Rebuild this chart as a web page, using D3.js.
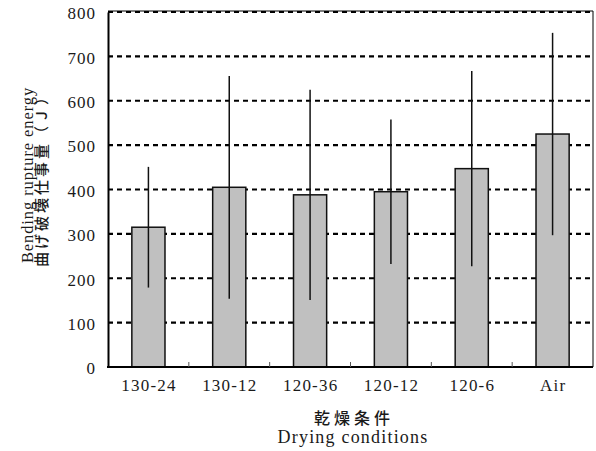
<!DOCTYPE html>
<html><head><meta charset="utf-8">
<script src="https://cdn.jsdelivr.net/npm/d3@7"></script>
<style>body{margin:0;background:#fff}</style>
</head><body>
<svg id="c" width="596" height="451"></svg>
<script>
const categories = ["130-24","130-12","120-36","120-12","120-6","Air"];
const means = [315, 405, 388, 395, 447, 525];
const sds = [136, 251, 237, 163, 220, 228];
const yTicks = [0,100,200,300,400,500,600,700,800];

const svg = d3.select("#c");
const L=108, R=593, T=12, B=367;
const x = d3.scaleBand().domain(categories).range([L,R]).paddingInner(0.59).paddingOuter(0.295);
const xb = d3.scaleBand().domain(categories).range([L,R]).padding(0);
const y = d3.scaleLinear().domain([0,800]).range([B,T]);
const serif = "'Liberation Serif','Times New Roman',serif";
const cjk = "'Noto Sans CJK JP',sans-serif";

// gridlines
svg.append("g").selectAll("line").data(yTicks.filter(d=>d>0)).join("line")
  .attr("x1",L).attr("x2",R).attr("y1",d=>y(d)).attr("y2",d=>y(d))
  .attr("stroke","#000").attr("stroke-width",2.2).attr("stroke-dasharray","5,4");
svg.append("line").attr("x1",L).attr("x2",R).attr("y1",T-1).attr("y2",T-1).attr("stroke","#000").attr("stroke-width",1);
svg.append("line").attr("x1",R).attr("x2",R).attr("y1",T-1).attr("y2",B).attr("stroke","#000").attr("stroke-width",1);

// bars
svg.append("g").selectAll("rect").data(categories).join("rect")
  .attr("x",d=>x(d)).attr("width",x.bandwidth())
  .attr("y",(d,i)=>y(means[i])).attr("height",(d,i)=>B-y(means[i]))
  .attr("fill","#c0c0c0").attr("stroke","#111").attr("stroke-width",1.5);
// error bars
svg.append("g").selectAll("line").data(categories).join("line")
  .attr("x1",d=>x(d)+x.bandwidth()/2).attr("x2",d=>x(d)+x.bandwidth()/2)
  .attr("y1",(d,i)=>y(means[i]+sds[i])).attr("y2",(d,i)=>y(means[i]-sds[i]))
  .attr("stroke","#111").attr("stroke-width",1.5);

// axes
const ya = svg.append("g").attr("transform",`translate(${L},0)`)
  .call(d3.axisLeft(y).tickValues(yTicks).tickSize(0).tickPadding(12));
ya.select(".domain").attr("stroke","#000").attr("stroke-width",2);
ya.selectAll("text").attr("font-family",serif).attr("font-size",17).attr("letter-spacing",1)
  .attr("fill","#1a1a1a").attr("dy","0.4em");

svg.append("line").attr("x1",L-1).attr("x2",R).attr("y1",B).attr("y2",B).attr("stroke","#000").attr("stroke-width",2);
svg.append("g").selectAll("line").data(categories.slice(1)).join("line")
  .attr("x1",d=>xb(d)).attr("x2",d=>xb(d)).attr("y1",B).attr("y2",B-5)
  .attr("stroke","#555").attr("stroke-width",1);
svg.append("g").selectAll("text").data(categories).join("text")
  .attr("x",d=>x(d)+x.bandwidth()/2+0.6).attr("y",B+24).attr("text-anchor","middle")
  .attr("font-family",serif).attr("font-size",17).attr("letter-spacing",1.2).attr("fill","#1a1a1a").text(d=>d);

// x title
svg.append("text").attr("x",354).attr("y",424).attr("text-anchor","middle")
  .attr("font-family",cjk).attr("font-size",16).attr("font-weight",500).attr("letter-spacing",4).attr("fill","#1a1a1a").text("乾燥条件");
svg.append("text").attr("x",353).attr("y",443).attr("text-anchor","middle")
  .attr("font-family",serif).attr("font-size",18).attr("letter-spacing",1.2).attr("fill","#1a1a1a").text("Drying conditions");

// y title
svg.append("text").attr("transform","translate(33,175) rotate(-90)").attr("text-anchor","middle")
  .attr("font-family",serif).attr("font-size",16.5).attr("letter-spacing",0.9).attr("fill","#1a1a1a").text("Bending rupture energy");
svg.append("text").attr("transform","translate(47,177) rotate(-90)").attr("text-anchor","middle")
  .attr("font-family",cjk).attr("font-size",15).attr("font-weight",500).attr("letter-spacing",3).attr("fill","#1a1a1a").text("曲げ破壊仕事量（Ｊ）");
</script>
</body></html>
